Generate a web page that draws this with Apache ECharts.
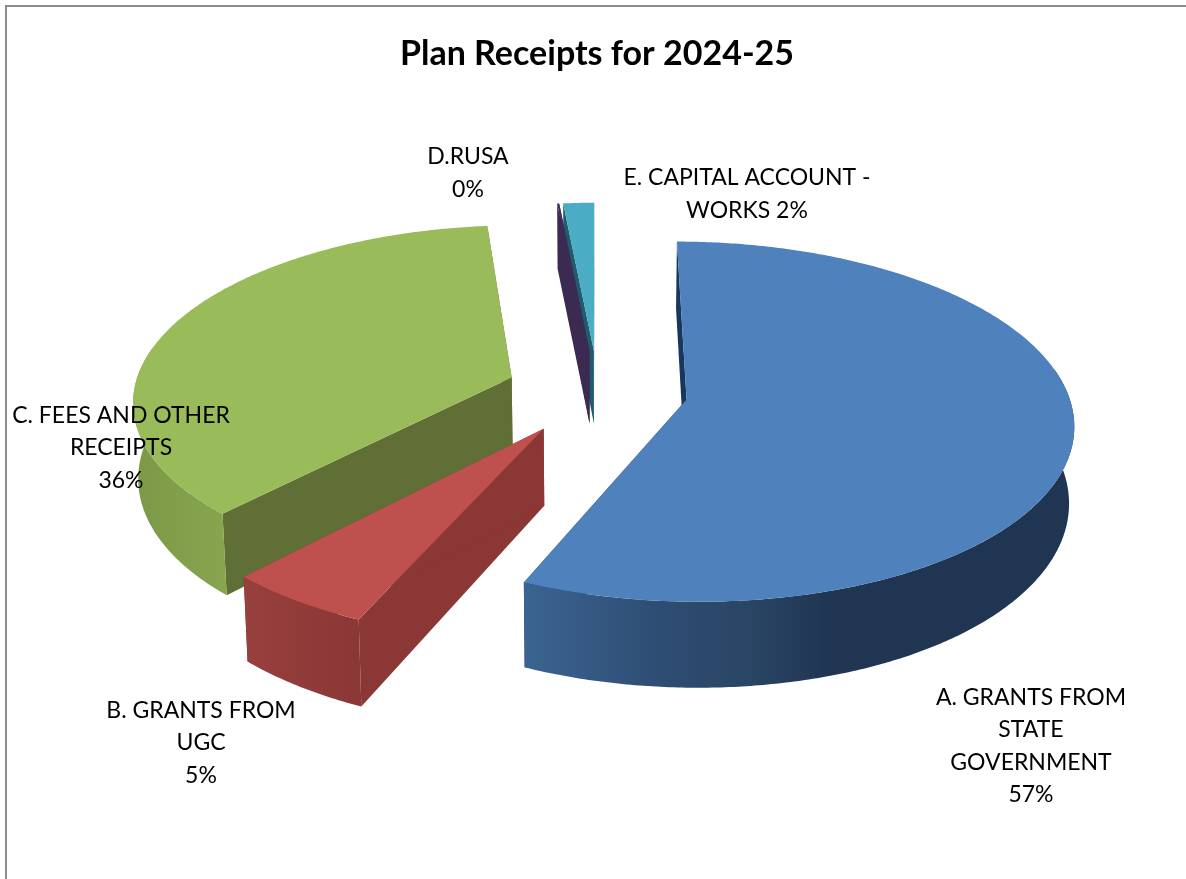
<!DOCTYPE html>
<html>
<head>
<meta charset="utf-8">
<title>Plan Receipts for 2024-25</title>
<style>
html,body{margin:0;padding:0;background:#fff;}
#chart{width:1186px;height:879px;}
</style>
<script src="https://cdn.jsdelivr.net/npm/echarts@6/dist/echarts.min.js"></script>
</head>
<body>
<div id="chart"></div>
<script>
// chart data
var chartTitle = 'Plan Receipts for 2024-25';
var categories = ['A. GRANTS FROM\nSTATE\nGOVERNMENT', 'B. GRANTS FROM\nUGC', 'C. FEES AND OTHER\nRECEIPTS', 'D.RUSA', 'E. CAPITAL ACCOUNT -\nWORKS'];
var values = [56.6, 5.4, 36.4, 0.1, 1.5];

// label layout, same order as categories
var labelSeparators = ['\n', '\n', '\n', '\n', ' '];
var labelX = [1031, 201, 121, 468, 747];
var labelY = [746, 743, 448, 173, 194];

// how far each slice is pulled out and its radius, same order as categories
var explodes = [90, 96, 92, 90, 90];
var radii = [381, 381, 378, 381, 381];

// colours, same order as categories
var topColors = ['#4F81BD', '#BE504D', '#9ABB59', '#3E2C5C', '#4BACC6'];
var cutColors = ['#17375E', '#8A3735', '#5F6F35', '#3B2A52', '#1F5C6C'];
var sideStops = [
    [[0, '#3B6491'], [0.23, '#2F4E75'], [0.41, '#2A4565'], [0.56, '#1F3552'], [1, '#1F3552']],
    [[0, '#98403D'], [1, '#8A3735']],
    [[0, '#7C9848'], [1, '#87A64E']],
    [[0, '#3B2A52'], [1, '#3B2A52']],
    [[0, '#1F5C6C'], [1, '#1F5C6C']]
];
// back to front
var drawOrder = [4, 3, 2, 0, 1];

// 3d pie geometry
var CX = 598, CY = 391, TILT = 0.46, PERSP = 0.00032, DEPTH = 75, CONVERGE = 0.011;

var total = values.reduce(function (a, b) { return a + b; }, 0);
var startAngles = [];
var sum = 0;
values.forEach(function (v) {
    startAngles.push(sum / total * Math.PI * 2);
    sum += v;
});

function project(u, v, z) {
    var s = 1 / (1 - v * PERSP);
    return [CX + u * s * (1 - CONVERGE * z), CY + TILT * v * s + DEPTH * z * s];
}

function pieSlice(index) {
    var a0 = startAngles[index];
    var a1 = a0 + values[index] / total * Math.PI * 2;
    var mid = (a0 + a1) / 2;
    var R = radii[index];
    var ox = Math.sin(mid) * explodes[index], oy = -Math.cos(mid) * explodes[index];
    function rim(a, z) {
        return project(ox + R * Math.sin(a), oy - R * Math.cos(a), z);
    }
    function apex(z) {
        return project(ox, oy, z);
    }
    function arc(from, to, z) {
        var pts = [], n = Math.max(2, Math.ceil((to - from) / 0.01));
        for (var i = 0; i <= n; i++) {
            pts.push(rim(from + (to - from) * i / n, z));
        }
        return pts;
    }
    var children = [];
    // cut faces first, the top face hides the ones turned away
    [a0, a1].forEach(function (a) {
        children.push({
            type: 'polygon',
            shape: {points: [apex(0), rim(a, 0), rim(a, 1), apex(1)]},
            style: {fill: cutColors[index]}
        });
    });
    // outer wall, only the part that faces the viewer
    var from = Math.max(a0, 80 * Math.PI / 180), to = Math.min(a1, 280 * Math.PI / 180);
    if (to > from) {
        var stops = sideStops[index].map(function (s) {
            return {offset: s[0], color: s[1]};
        });
        children.push({
            type: 'polygon',
            shape: {points: arc(from, to, 0).concat(arc(from, to, 1).reverse())},
            style: {fill: new echarts.graphic.LinearGradient(0, 0, 1, 0, stops)}
        });
    }
    children.push({
        type: 'polygon',
        shape: {points: [apex(0)].concat(arc(a0, a1, 0))},
        style: {fill: topColors[index]}
    });
    return {type: 'group', children: children};
}

function sliceLabel(index) {
    return {
        type: 'text',
        z2: 100,
        style: {
            text: categories[index] + labelSeparators[index] + Math.round(values[index]) + '%',
            x: labelX[index],
            y: labelY[index],
            align: 'center',
            verticalAlign: 'middle',
            fontFamily: 'Lato',
            fontSize: 23,
            lineHeight: 32.4,
            fill: '#000'
        }
    };
}

var myChart = echarts.init(document.getElementById('chart'));
myChart.setOption({
    backgroundColor: '#fff',
    animation: false,
    title: {
        text: chartTitle,
        left: 592,
        top: 32,
        textAlign: 'center',
        textStyle: {fontFamily: 'Lato', fontWeight: 'bold', fontSize: 34, color: '#000'}
    },
    graphic: [{
        type: 'rect',
        silent: true,
        shape: {x: 6, y: 6, width: 1300, height: 1000},
        style: {fill: 'none', stroke: '#8C8C8C', lineWidth: 2}
    }],
    series: [{
        type: 'custom',
        coordinateSystem: 'none',
        silent: true,
        data: drawOrder.map(function (i) { return [i]; }),
        renderItem: function (params, api) {
            return pieSlice(api.value(0));
        }
    }, {
        type: 'custom',
        coordinateSystem: 'none',
        silent: true,
        z: 5,
        data: categories.map(function (c, i) { return [i]; }),
        renderItem: function (params, api) {
            return sliceLabel(api.value(0));
        }
    }]
});
</script>
</body>
</html>
